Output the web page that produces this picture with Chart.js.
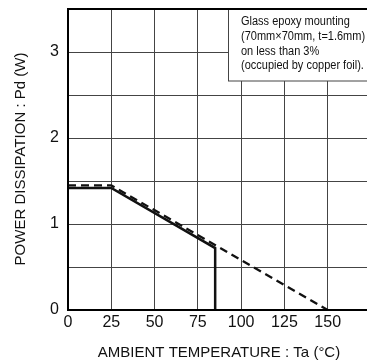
<!DOCTYPE html>
<html>
<head>
<meta charset="utf-8">
<script src="https://cdn.jsdelivr.net/npm/chart.js@4"></script>
<style>
  html, body { margin: 0; padding: 0; background: #fff; overflow: hidden; }
</style>
</head>
<body>
<canvas id="myChart" width="372" height="363"></canvas>
<script>
// derating curves: solid = actual rating, dashed = reference line to 150C
const solidTemp = [0, 25, 85, 85];
const solidPower = [1.42, 1.42, 0.72, 0];
const dashTemp = [0, 25, 150];
const dashPower = [1.45, 1.45, 0];

const xTicks = [0, 25, 50, 75, 100, 125, 150];
const yTicks = [0, 1, 2, 3];

const noteLines = [
  'Glass epoxy mounting',
  '(70mm\u00d770mm, t=1.6mm)',
  'on less than 3%',
  '(occupied by copper foil).'
];
const xTitle = 'AMBIENT TEMPERATURE : Ta (\u00b0C)';
const yTitle = 'POWER DISSIPATION : Pd (W)';

const FONT = 'Liberation Sans, Arial, sans-serif';

function pts(xs, ys) {
  return xs.map((x, i) => ({ x: x, y: ys[i] }));
}

const extras = {
  id: 'extras',
  afterDraw(chart) {
    const c = chart.ctx;
    const a = chart.chartArea;
    c.save();
    // note box
    c.fillStyle = '#fff';
    c.fillRect(228, a.top, a.right - 228, 81 - a.top);
    c.strokeStyle = '#444';
    c.lineWidth = 1;
    c.strokeRect(228.5, a.top, a.right - 228, 81 - a.top);
    c.fillStyle = '#111';
    c.font = '12.5px ' + FONT;
    c.textBaseline = 'middle';
    c.textAlign = 'left';
    noteLines.forEach((t, i) => {
      c.save();
      c.translate(241, 22 + i * 14.6);
      c.scale(0.88, 1);
      c.fillText(t, 0, 0);
      c.restore();
    });
    // frame
    c.strokeStyle = '#000';
    c.lineWidth = 2;
    c.strokeRect(a.left, a.top, a.right - a.left, a.bottom - a.top);
    // axis titles
    c.fillStyle = '#111';
    c.font = '15px ' + FONT;
    c.textAlign = 'center';
    c.fillText(xTitle, 219, 353);
    c.translate(21, 159);
    c.rotate(-Math.PI / 2);
    c.fillText(yTitle, 0, 0);
    c.restore();
  }
};

const ctx = document.getElementById('myChart').getContext('2d');
const chart = new Chart(ctx, {
  type: 'line',
  data: {
    datasets: [
      {
        data: pts(dashTemp, dashPower),
        borderColor: '#111',
        borderWidth: 2.3,
        borderDash: [8, 5],
        pointRadius: 0,
        tension: 0
      },
      {
        data: pts(solidTemp, solidPower),
        borderColor: '#111',
        borderWidth: 2.5,
        pointRadius: 0,
        tension: 0
      }
    ]
  },
  plugins: [extras],
  options: {
    responsive: false,
    animation: false,
    layout: { padding: { top: 9, right: 1, left: 0, bottom: 0 } },
    plugins: { legend: { display: false }, tooltip: { enabled: false } },
    scales: {
      x: {
        type: 'linear',
        min: 0,
        max: 175,
        afterFit: s => { s.height = 53; s.paddingLeft = 0; s.paddingRight = 0; },
        ticks: {
          stepSize: 25,
          padding: 3,
          color: '#111',
          font: { family: FONT, size: 16 },
          maxRotation: 0,
          callback: v => xTicks.includes(v) ? String(v) : ''
        },
        grid: { color: '#444', lineWidth: 1, drawTicks: false },
        border: { display: false }
      },
      y: {
        min: 0,
        max: 3.5,
        afterFit: s => { s.width = 68; s.paddingTop = 0; s.paddingBottom = 0; },
        ticks: {
          stepSize: 0.5,
          padding: 9,
          color: '#111',
          font: { family: FONT, size: 16 },
          callback: v => yTicks.includes(v) ? String(v) : ''
        },
        grid: { color: '#444', lineWidth: 1, drawTicks: false },
        border: { display: false }
      }
    }
  }
});
</script>
</body>
</html>
